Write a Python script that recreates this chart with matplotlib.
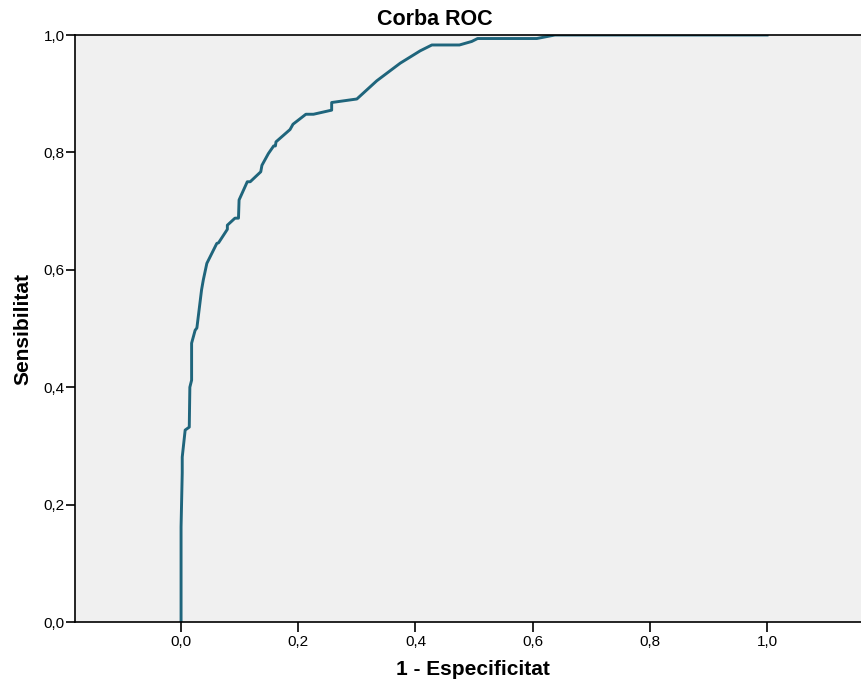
import matplotlib.pyplot as plt
from matplotlib.ticker import FuncFormatter

# ROC points (1 - specificity, sensitivity)
fpr = [0.0, 0.0, 0.002, 0.002, 0.007, 0.014, 0.015, 0.018, 0.018, 0.024, 0.027,
       0.035, 0.038, 0.044, 0.061, 0.064, 0.079, 0.079, 0.092, 0.098, 0.099,
       0.113, 0.118, 0.136, 0.138, 0.149, 0.158, 0.161, 0.162, 0.186, 0.191,
       0.213, 0.226, 0.257, 0.257, 0.300, 0.334, 0.374, 0.408, 0.428, 0.475,
       0.496, 0.506, 0.607, 0.638, 1.0]
tpr = [0.0, 0.162, 0.254, 0.281, 0.327, 0.332, 0.400, 0.412, 0.475, 0.497, 0.501,
       0.566, 0.583, 0.611, 0.645, 0.646, 0.669, 0.676, 0.688, 0.688, 0.719,
       0.750, 0.750, 0.767, 0.778, 0.798, 0.811, 0.811, 0.818, 0.839, 0.848,
       0.865, 0.865, 0.872, 0.885, 0.891, 0.922, 0.952, 0.973, 0.983, 0.983,
       0.989, 0.994, 0.994, 1.0, 1.0]
ticks = [0.0, 0.2, 0.4, 0.6, 0.8, 1.0]

plt.rcParams['font.family'] = ['Liberation Sans', 'DejaVu Sans']

fig = plt.figure(figsize=(8.62, 6.89), dpi=100)
ax = fig.add_axes([0.087, 0.0972, 0.913, 0.852])
ax.set_facecolor('#F0F0F0')

ax.plot(fpr, tpr, color='#1F657C', linewidth=2.1)

ax.set_xlim(-0.181, 1.162)
ax.set_ylim(0, 1.0)
ax.set_xticks(ticks)
ax.set_yticks(ticks)
fmt = FuncFormatter(lambda v, p: f'{v:.1f}'.replace('.', ','))
ax.xaxis.set_major_formatter(fmt)
ax.yaxis.set_major_formatter(fmt)
ax.tick_params(axis='x', direction='out', length=7, width=1.2, labelsize=11, pad=2)
ax.tick_params(axis='y', direction='out', length=6.5, width=1.2, labelsize=11, pad=1)

for s in ['left', 'top', 'bottom']:
    ax.spines[s].set_linewidth(1.2)
    ax.spines[s].set_color('black')
ax.spines['right'].set_visible(False)

fig.text(0.505, 0.9637, 'Corba ROC', fontsize=15.5, fontweight='bold',
         ha='center', va='baseline')
ax.set_xlabel('1 - Especificitat', fontsize=15, fontweight='bold')
ax.set_ylabel('Sensibilitat', fontsize=15, fontweight='bold')
ax.xaxis.set_label_coords(0.506, -0.0647)
ax.yaxis.set_label_coords(-0.054, 0.5)

fig.savefig('out.png', dpi=100)
